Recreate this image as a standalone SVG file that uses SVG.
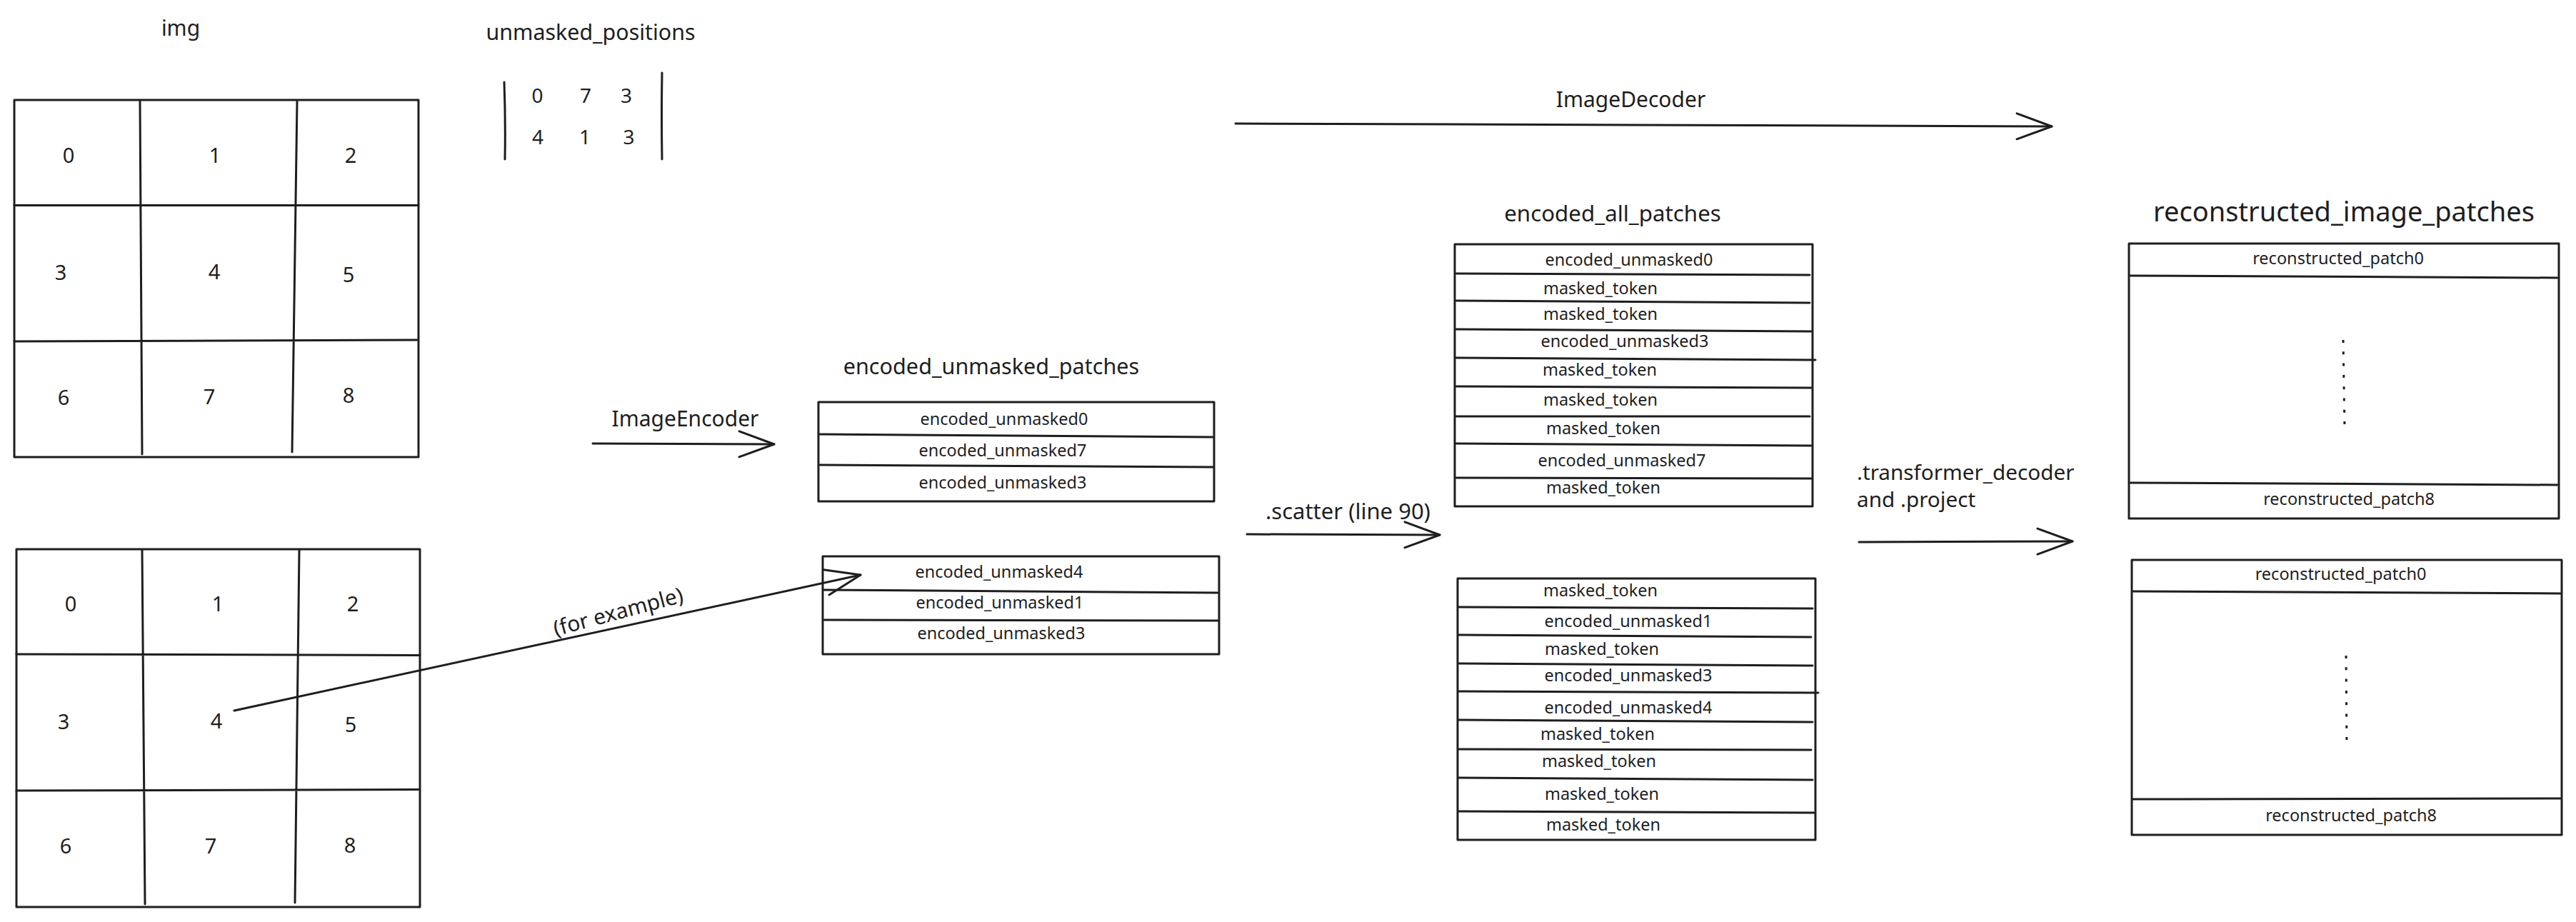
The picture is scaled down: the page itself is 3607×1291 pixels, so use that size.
<svg xmlns="http://www.w3.org/2000/svg" width="3607" height="1291" viewBox="0 0 3607 1291">
<style>
.s{fill:none;stroke:#1e1e1e;stroke-width:3;stroke-linecap:round;stroke-linejoin:round}
.t{font-family:"Noto Sans","Open Sans",sans-serif;fill:#1e1e1e}
.lbl{font-size:30px}
.mid{text-anchor:middle}
.dig{font-size:29px;text-anchor:middle}
.mdig{font-size:28px;text-anchor:middle}
.row{font-size:23.5px;text-anchor:middle}
.dots{fill:none;stroke:#1e1e1e;stroke-width:3;stroke-dasharray:4 12.3}
</style>
<defs>
<marker id="arr" markerUnits="userSpaceOnUse" viewBox="-60 -30 70 60" refX="0" refY="0" markerWidth="70" markerHeight="60" orient="auto" overflow="visible">
<path d="M -49 -18 L 0 0 L -49 18" fill="none" stroke="#1e1e1e" stroke-width="3" stroke-linecap="round" stroke-linejoin="round"/>
</marker>
</defs>
<rect width="3607" height="1291" fill="#ffffff"/>

<g id="img-grid">
<text class="t lbl mid" x="253" y="50">img</text>
<rect class="s" x="20" y="140" width="566" height="500"/>
<path class="s" d="M196 142 L199 636 M416 142 L409 633 M20 287.5 L586 287.5 M20 478 L584 476"/>
<text class="t dig" x="96" y="227.5">0</text>
<text class="t dig" x="301" y="227.5">1</text>
<text class="t dig" x="491" y="227.5">2</text>
<text class="t dig" x="85" y="391.5">3</text>
<text class="t dig" x="300" y="390.5">4</text>
<text class="t dig" x="488" y="394.5">5</text>
<text class="t dig" x="89" y="566.5">6</text>
<text class="t dig" x="293" y="565.5">7</text>
<text class="t dig" x="488" y="563.5">8</text>
</g>

<g id="unmasked-positions">
<text class="t mid" style="font-size:30.4px" x="827" y="56">unmasked_positions</text>
<path class="s" d="M706 115 Q708 170 707 223 M927 102 Q926 160 927 223"/>
<text class="t mdig" x="752.5" y="143.5">0</text>
<text class="t mdig" x="820" y="143.5">7</text>
<text class="t mdig" x="877" y="143.5">3</text>
<text class="t mdig" x="753" y="202">4</text>
<text class="t mdig" x="819" y="202">1</text>
<text class="t mdig" x="880.5" y="202">3</text>
</g>

<g id="masked-grid">
<rect class="s" x="23" y="769" width="565" height="501"/>
<path class="s" d="M199 770 L203 1266 M419 770 L413 1264 M23 916 L588 917.5 M23 1107 L586 1105.5"/>
<text class="t dig" x="99" y="855.5">0</text>
<text class="t dig" x="305" y="855.5">1</text>
<text class="t dig" x="494" y="855.5">2</text>
<text class="t dig" x="89" y="1020.5">3</text>
<text class="t dig" x="303" y="1019.5">4</text>
<text class="t dig" x="491" y="1024.5">5</text>
<text class="t dig" x="92" y="1195">6</text>
<text class="t dig" x="295" y="1194.5">7</text>
<text class="t dig" x="490" y="1193.5">8</text>
</g>

<g id="encoded-unmasked-patches">
<text class="t mid" style="font-size:30.6px" x="1388" y="524">encoded_unmasked_patches</text>
<rect class="s" x="1146" y="563" width="554" height="139"/>
<path class="s" d="M1148 608 L1698 612 M1148 651 L1698 654"/>
<text class="t row" x="1406" y="595">encoded_unmasked0</text>
<text class="t row" x="1404" y="639">encoded_unmasked7</text>
<text class="t row" x="1404" y="684">encoded_unmasked3</text>
</g>

<g id="encoded-unmasked-patches-2">
<rect class="s" x="1152" y="779" width="555" height="137"/>
<path class="s" d="M1154 826 L1705 830 M1154 868 L1705 869"/>
<text class="t row" x="1399" y="809">encoded_unmasked4</text>
<text class="t row" x="1400" y="852">encoded_unmasked1</text>
<text class="t row" x="1402" y="895">encoded_unmasked3</text>
</g>

<g id="encoded-all-patches">
<text class="t mid" style="font-size:31.3px" x="2258" y="309.6">encoded_all_patches</text>
<rect class="s" x="2037" y="342" width="501" height="367"/>
<path class="s" d="M2039 383 L2534 385 M2039 421 L2534 424 M2039 461 L2536 464 M2039 501 L2542 504 M2039 541 L2536 543 M2039 583 L2534 583 M2039 621 L2536 624 M2039 669 L2536 670"/>
<text class="t row" x="2281" y="372">encoded_unmasked0</text>
<text class="t row" x="2241" y="412">masked_token</text>
<text class="t row" x="2241" y="448">masked_token</text>
<text class="t row" x="2275" y="486">encoded_unmasked3</text>
<text class="t row" x="2240" y="526">masked_token</text>
<text class="t row" x="2241" y="568">masked_token</text>
<text class="t row" x="2245" y="608">masked_token</text>
<text class="t row" x="2271" y="653">encoded_unmasked7</text>
<text class="t row" x="2245" y="691">masked_token</text>
</g>

<g id="encoded-all-patches-2">
<rect class="s" x="2041" y="810" width="501" height="366"/>
<path class="s" d="M2043 850 L2538 852 M2043 889 L2536 892 M2043 929 L2538 932 M2043 968 L2546 970 M2043 1008 L2538 1011 M2043 1049 L2536 1050 M2043 1089 L2538 1092 M2043 1136 L2540 1138"/>
<text class="t row" x="2241" y="835">masked_token</text>
<text class="t row" x="2280" y="878">encoded_unmasked1</text>
<text class="t row" x="2243" y="917">masked_token</text>
<text class="t row" x="2280" y="954">encoded_unmasked3</text>
<text class="t row" x="2280" y="999">encoded_unmasked4</text>
<text class="t row" x="2237" y="1036">masked_token</text>
<text class="t row" x="2239" y="1074">masked_token</text>
<text class="t row" x="2243" y="1120">masked_token</text>
<text class="t row" x="2245" y="1163">masked_token</text>
</g>

<g id="reconstructed-image-patches">
<text class="t mid" style="font-size:38px" x="3282" y="310">reconstructed_image_patches</text>
<rect class="s" x="2981" y="341" width="602" height="385"/>
<path class="s" d="M2983 386 L3581 389 M2983 676 L3581 679"/>
<path class="dots" d="M3281 476 L3283 600"/>
<text class="t row" x="3274" y="370">reconstructed_patch0</text>
<text class="t row" x="3289" y="707">reconstructed_patch8</text>
</g>

<g id="reconstructed-image-patches-2">
<rect class="s" x="2985" y="784" width="602" height="385"/>
<path class="s" d="M2987 828 L3585 831 M2987 1119 L3585 1118"/>
<path class="dots" d="M3285 918 L3286 1044"/>
<text class="t row" x="3277.5" y="812">reconstructed_patch0</text>
<text class="t row" x="3292" y="1150">reconstructed_patch8</text>
</g>

<g id="connectors">
<path class="s" d="M830 621 L1084 622" marker-end="url(#arr)"/>
<text class="t lbl mid" x="959.5" y="597">ImageEncoder</text>
<path class="s" d="M328 995 L1205 805" marker-end="url(#arr)"/>
<text class="t mid" style="font-size:30px" x="866" y="867" transform="rotate(-15 866 858)">(for example)</text>
<path class="s" d="M1746 748 L2016 749" marker-end="url(#arr)"/>
<text class="t" style="font-size:31px" x="1772" y="726.5">.scatter (line 90)</text>
<path class="s" d="M1730 173 L2873 177" marker-end="url(#arr)"/>
<text class="t lbl mid" x="2283.5" y="149.5">ImageDecoder</text>
<path class="s" d="M2603 759 L2902 758" marker-end="url(#arr)"/>
<text class="t" style="font-size:29.7px" x="2600" y="671.5">.transformer_decoder</text>
<text class="t" style="font-size:29.7px" x="2600" y="710">and .project</text>
</g>
</svg>
